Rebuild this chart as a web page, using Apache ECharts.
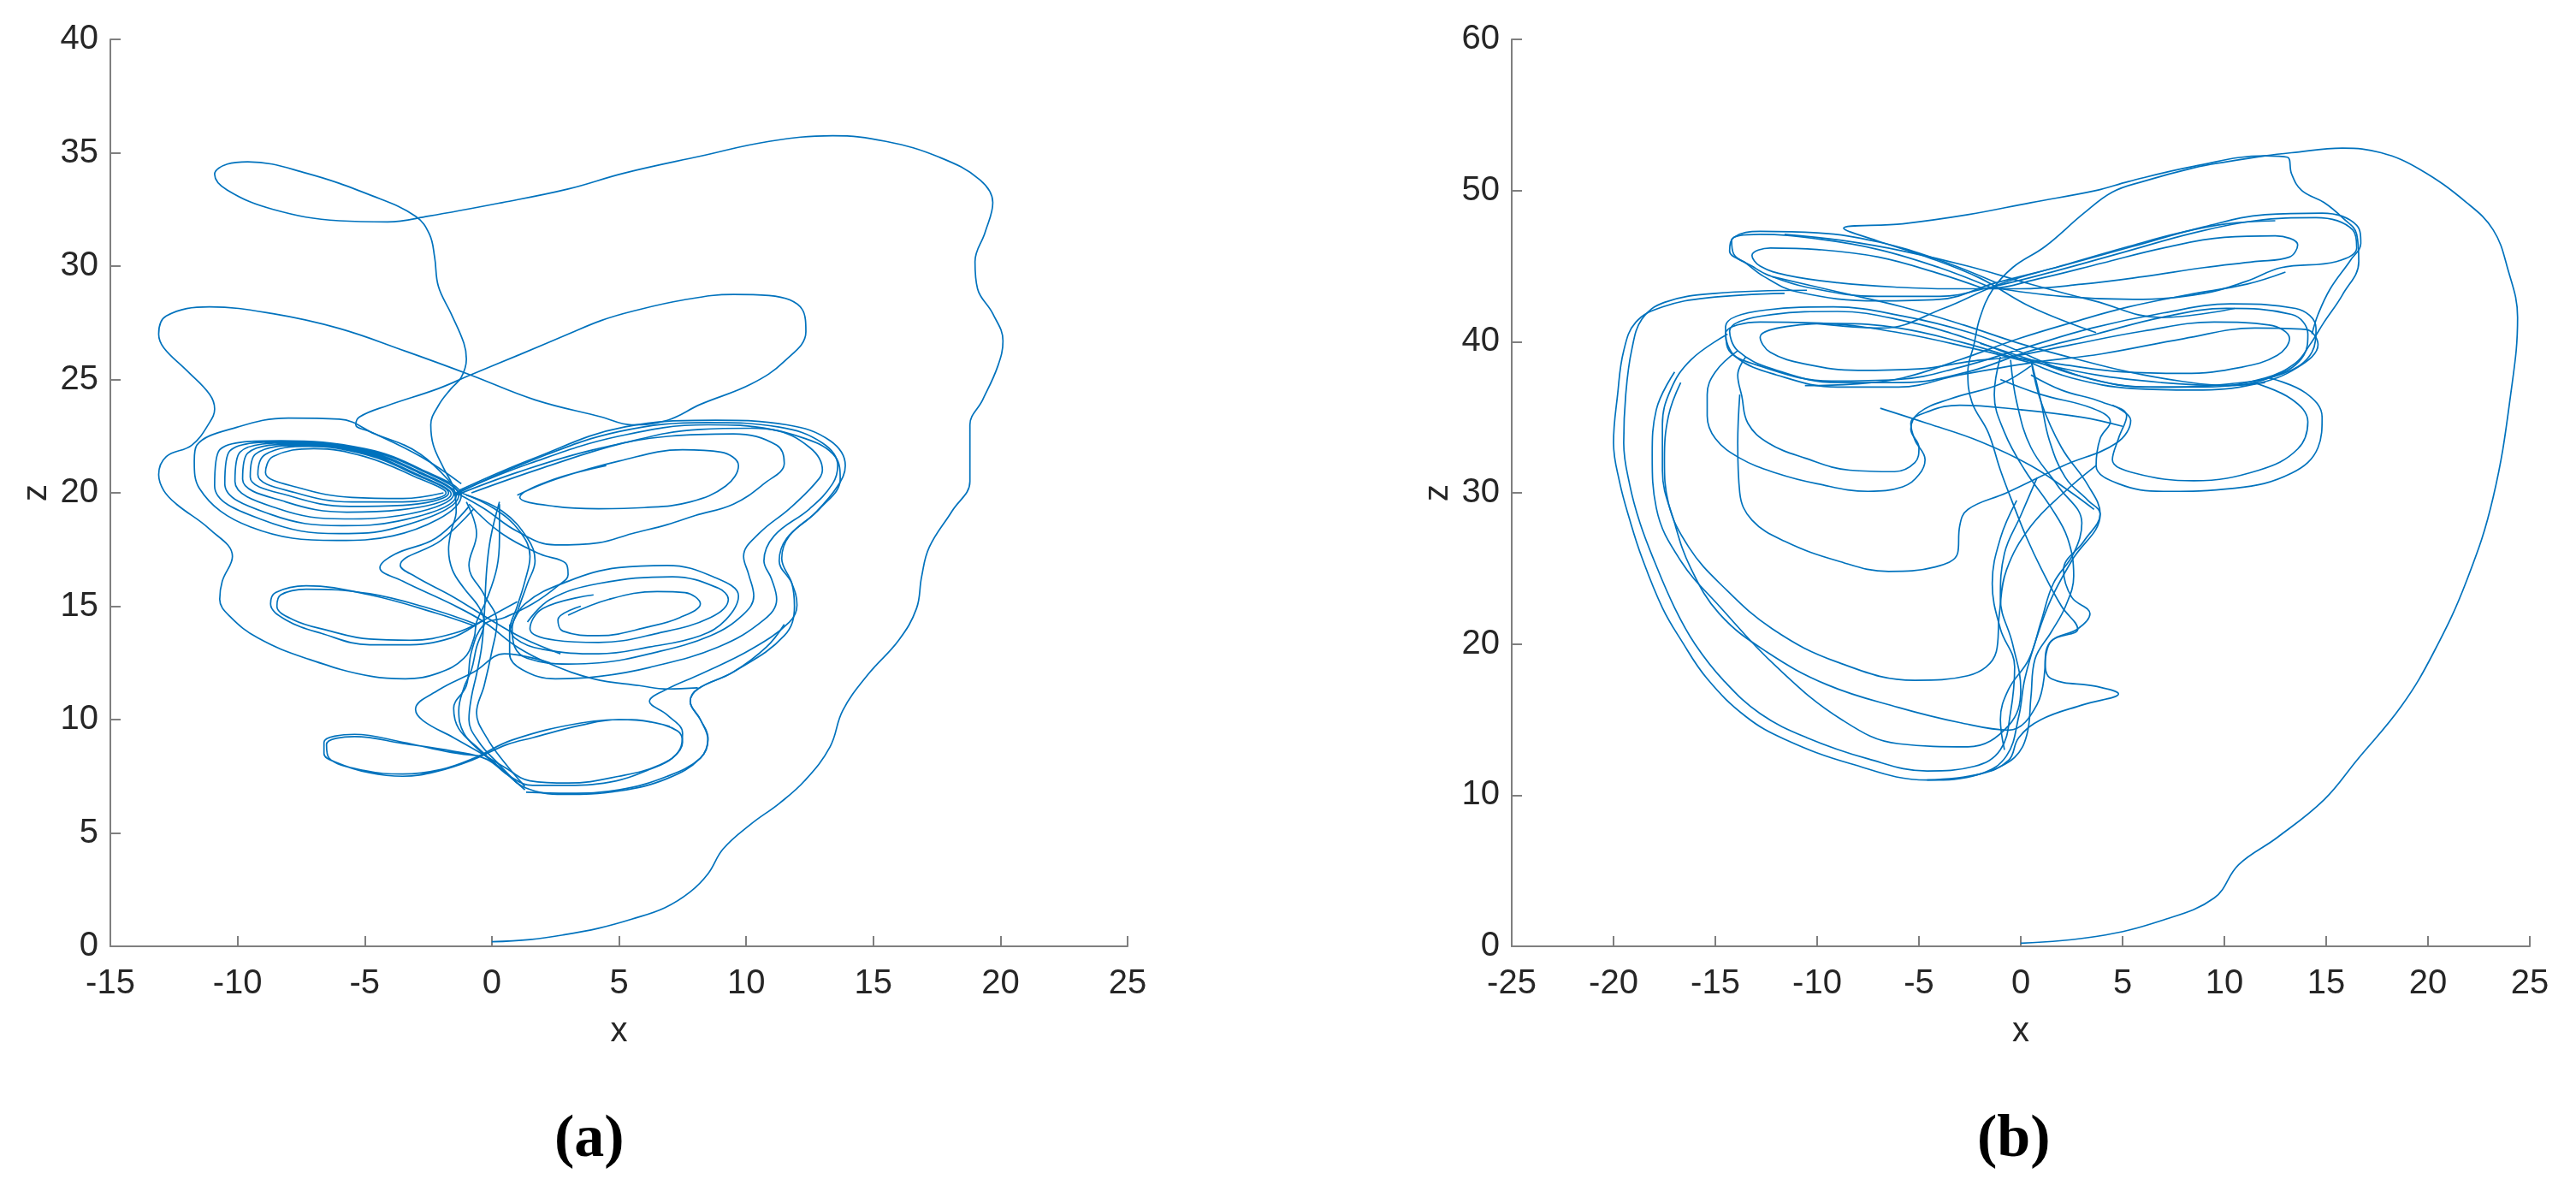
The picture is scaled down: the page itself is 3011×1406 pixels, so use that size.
<!DOCTYPE html>
<html>
<head>
<meta charset="utf-8">
<script src="https://cdn.jsdelivr.net/npm/echarts@6/dist/echarts.min.js"></script>
<style>
html,body{margin:0;padding:0;background:#fff;}
#chart{width:3011px;height:1406px;}
</style>
</head>
<body>
<div id="chart"></div>
<script>
// ---------- tick settings ----------
const xTicksA = {min: -15, max: 25, interval: 5};
const zTicksA = {min: 0, max: 40, interval: 5};
const xTicksB = {min: -25, max: 25, interval: 5};
const zTicksB = {min: 0, max: 60, interval: 10};
const captions = ['(a)', '(b)'];

// ---------- panel (a): x-z trajectory pieces ----------
const aStart = [[0,0.2],[1.5,0.3],[2.8,0.5],[4.2,0.8],[5.5,1.2],[6.8,1.7],[7.8,2.4],[8.5,3.2],[9.1,4.3],[10.2,5.4],[11.3,6.3],[12.3,7.3],[13.3,8.8],[13.8,10.4],[14.8,12.0],[16.0,13.5],[16.7,14.9],[16.9,16.3],[17.2,17.6],[18.1,19.2],[18.8,20.5],[18.8,21.9],[18.8,23.0],[19.3,24.1],[19.9,25.6],[20.1,26.7],[19.7,27.9],[19.1,29.0],[19.0,30.2],[19.4,31.5],[19.7,32.8],[19.2,33.8],[17.6,34.8],[15.5,35.5],[13.4,35.75],[10.9,35.5],[8.2,34.85],[5.2,34.1],[3.0,33.4],[0.4,32.8],[-2.5,32.2],[-4.1,31.95],[-6.0,32.0],[-8.6,32.5],[-10.4,33.35],[-10.9,34.05],[-10.4,34.5],[-9.6,34.6],[-7.3,34.1],[-4.7,33.1],[-3.0,32.2],[-2.45,31.4],[-2.25,30.4],[-2.1,29.1],[-1.6,27.9],[-1.1,26.6],[-1.0,25.9],[-1.2,25.1],[-1.6,24.6],[-2.1,23.85],[-2.4,23.0],[-2.3,22.1],[-1.9,21.1],[-1.5,20.2],[-1.4,19.2],[-1.6,18.3],[-1.7,17.5],[-1.55,16.6],[-1.1,15.8],[-0.5,14.95],[-0.3,14.3],[-0.6,13.2],[-0.8,12.2],[-1.1,11.4],[-1.3,10.4],[-1.1,9.4],[-0.4,8.55],[0.5,7.7],[1.3,7.0],[2.8,6.7],[5.0,6.85],[6.9,7.4],[8.2,8.3],[8.5,9.2],[8.2,10.0],[7.8,10.8],[8.1,11.35],[9.5,12.1],[11.5,13.7],[11.9,15.0],[11.8,16.0],[11.4,17.1],[11.7,18.1],[12.9,19.3],[13.7,20.6],[13.5,21.6],[12.3,22.4],[10.2,22.85],[8.2,22.8],[5.2,22.2],[2.0,21.1],[-0.8,20.0]];

const aUpper = [[-1.2,19.9],[-2.8,21.7],[-4.8,22.7],[-5.35,23.0],[-5.2,23.35],[-4.1,23.85],[-2.1,24.6],[-0.84,25.2],[1.1,26.1],[3.0,27.0],[4.3,27.6],[5.5,28.0],[7.5,28.5],[9.5,28.75],[10.9,28.7],[12.2,28.1],[12.35,27.1],[11.5,25.8],[10.2,24.8],[8.2,23.9],[6.9,23.2],[5.5,23.0],[4.3,23.35],[1.7,24.1],[-0.84,25.2],[-3.4,26.25],[-6.0,27.25],[-8.6,27.9],[-11.1,28.2],[-12.8,27.8],[-13.1,27.0],[-12.9,26.4],[-12.0,25.4],[-11.1,24.35],[-10.9,23.7],[-11.1,23.1],[-11.8,22.1],[-12.8,21.6],[-13.1,20.8],[-12.9,20.1],[-12.4,19.5],[-11.1,18.4],[-10.2,17.2],[-10.6,16.1],[-10.7,15.3],[-10.3,14.55],[-9.2,13.6],[-7.3,12.7],[-4.7,11.9],[-3.4,11.8],[-2.1,12.05],[-1.1,12.7],[-0.7,13.6],[-0.6,14.3],[-0.2,15.3],[0.2,16.7],[0.3,18.0],[0.3,19.5]];

const aLeftSpiral = [[-1.9,20.0],[-3.5,19.75],[-5.5,19.8],[-7.5,20.2],[-8.9,20.9],[-8.6,21.6],[-7.0,21.95],[-5.0,21.6],[-3.0,20.7],[-1.8,20.0],
 [-3.5,19.6],[-5.5,19.6],[-7.7,20.0],[-9.2,20.8],[-8.9,21.7],[-7.2,22.05],[-5.0,21.7],[-3.0,20.8],[-1.7,20.0],
 [-3.5,19.45],[-5.6,19.4],[-7.9,19.85],[-9.5,20.7],[-9.3,21.7],[-7.4,22.1],[-5.0,21.75],[-3.0,20.85],[-1.6,19.95],
 [-3.6,19.25],[-5.7,19.15],[-8.1,19.6],[-9.8,20.6],[-9.6,21.75],[-7.6,22.15],[-5.0,21.8],[-2.9,20.9],[-1.5,19.95],
 [-3.6,19.0],[-5.8,18.85],[-8.4,19.3],[-10.1,20.5],[-9.9,21.8],[-7.8,22.2],[-5.0,21.85],[-2.9,20.95],[-1.4,19.9],
 [-3.7,18.75],[-5.9,18.55],[-8.7,19.05],[-10.5,20.4],[-10.3,21.85],[-8.0,22.25],[-5.0,21.9],[-2.8,21.0],[-1.3,19.9],
 [-3.8,18.45],[-6.0,18.2],[-9.0,18.8],[-10.9,20.3],[-10.7,21.9],[-8.3,22.3],[-5.0,21.95],[-2.8,21.05],[-1.2,19.9],
 [-3.9,18.1],[-6.1,17.9],[-9.5,18.5],[-11.5,20.2],[-11.7,21.4],[-11.6,22.1],[-10.0,22.9],[-8.0,23.3],[-6.0,23.25],[-4.6,22.6],[-2.8,21.6],[-1.2,20.4]];

const aRightInner = [[1.0,19.9],[2.5,20.6],[5.0,21.4],[7.5,21.9],[9.0,21.8],[9.7,21.2],[9.2,20.3],[7.8,19.6],[6.0,19.35],[4.2,19.3],[2.5,19.4],[1.1,19.8],[2.2,20.5],[4.5,21.2]];
const aRightMid = [[-1.4,19.9],[1.0,20.9],[4.0,21.9],[7.0,22.5],[9.5,22.6],[11.2,22.1],[11.5,21.3],[10.7,20.4],[9.5,19.5],[8.0,19.0],[6.9,18.6],[5.5,18.2],[4.2,17.8],[2.5,17.7],[1.0,18.3],[-0.3,19.3],[-1.4,20.0]];
const aRightOuter1 = [[-1.4,20.0],[1.5,21.3],[5.0,22.5],[8.5,23.0],[11.0,22.8],[12.5,22.0],[13.0,21.0],[12.7,20.4],[11.7,19.3],[10.5,18.2],[9.9,17.2],[10.1,16.4],[10.3,15.45],[9.9,14.65],[8.6,13.7],[6.2,12.9],[4.2,12.5],[3.0,12.45],[1.4,12.7],[0.9,13.2],[0.8,14.0],[1.05,14.9],[1.4,16.0],[1.7,17.0],[1.4,18.0],[0.4,19.2],[-1.0,19.9]];
const aRightOuter2 = [[-1.5,19.9],[1.5,21.4],[5.0,22.7],[8.5,23.1],[11.3,22.9],[13.0,22.2],[13.6,21.2],[13.4,20.4],[12.5,19.3],[11.1,18.1],[10.7,17.0],[11.0,16.2],[11.2,15.3],[10.7,14.4],[8.9,13.2],[6.2,12.3],[4.2,11.9],[2.5,11.8],[1.2,12.2],[0.7,12.9],[0.7,13.9],[1.0,15.0],[1.3,16.1],[1.5,17.2],[1.1,18.3],[0.1,19.3],[-1.2,20.0]];
const aRightOuter3 = [[-1.3,20.1],[1.6,21.5],[5.2,22.9],[8.8,23.2],[11.6,23.0],[13.3,22.3],[13.9,21.2],[13.6,20.3],[12.7,19.1],[11.6,18.0],[11.3,17.0],[11.8,16.0],[12.0,15.05],[11.7,14.3],[10.2,13.1],[8.2,12.0],[6.9,11.35],[6.2,10.8],[6.9,10.2],[7.5,9.4],[7.4,8.7],[6.6,8.0],[5.0,7.5],[3.0,7.2],[1.5,7.3],[0.5,7.9],[-0.4,8.5],[-1.5,9.2],[-2.7,9.95],[-3.0,10.45],[-2.1,11.3],[-0.7,12.1],[0.5,12.9],[2.3,12.5]];

const aMidRight1 = [[0.7,13.9],[1.3,15.1],[3.0,16.1],[5.0,16.7],[6.9,16.8],[8.7,16.3],[9.7,15.45],[9.2,14.4],[8.2,13.7],[6.2,13.2],[4.2,12.9],[2.0,13.1],[0.9,13.6],[0.7,14.2]];
const aMidRight2 = [[1.4,14.3],[2.3,15.3],[4.2,16.0],[7.1,16.3],[8.9,15.8],[9.3,15.3],[8.6,14.5],[6.5,13.8],[4.2,13.4],[2.5,13.5],[1.5,14.0],[2.0,14.9],[4.0,15.5]];
const aMidRight3 = [[3.0,14.6],[4.6,15.3],[6.5,15.65],[7.6,15.6],[8.2,15.1],[7.4,14.5],[6.2,14.1],[4.2,13.7],[2.8,13.9],[2.6,14.4],[3.5,15.0]];

const aMidLeft1 = [[-0.6,14.1],[-2.2,14.7],[-4.8,15.5],[-7.3,15.9],[-8.5,15.6],[-8.7,15.1],[-8.1,14.4],[-6.7,13.8],[-4.8,13.3],[-3.5,13.3],[-1.6,13.6],[-0.3,14.4],[1.0,15.2]];
const aMidLeft2 = [[-0.6,14.2],[-2.3,14.85],[-4.8,15.55],[-7.3,15.75],[-8.3,15.5],[-8.45,15.0],[-7.8,14.4],[-6.5,13.95],[-4.8,13.55],[-3.2,13.5],[-1.5,13.8],[-0.3,14.4]];

const aLowLoops = [[-0.5,8.4],[-1.6,8.55],[-3.5,9.0],[-5.4,9.35],[-6.6,9.0],[-6.6,8.5],[-6.1,8.1],[-4.8,7.65],[-3.5,7.5],[-2.2,7.7],[-0.8,8.2],[0.6,8.9],[1.6,9.2],[3.5,9.75],[5.0,10.0],[6.2,9.9],[7.3,9.5],[7.5,9.0],[7.1,8.3],[6.2,7.8],[4.9,7.3],[3.0,7.1],[1.6,7.1],[0.7,7.5],[-0.2,8.25],[-1.5,8.6],[-3.5,8.95],[-5.4,9.25],[-6.5,8.9],[-6.4,8.3],[-5.0,7.75],[-3.5,7.6],[-2.0,7.8],[-0.7,8.3],[0.8,9.1],[3.5,9.85],[5.5,10.0],[7.0,9.7]];
const aLowOuter = [[1.35,6.8],[3.0,6.75],[5.0,6.9],[6.9,7.5],[8.2,8.3],[8.5,9.1],[8.2,10.0],[7.8,10.8],[8.1,11.35],[9.5,12.1],[10.8,13.2],[11.5,14.2]];

const aConnS1 = [[-0.9,19.4],[-2.2,18.0],[-3.8,17.3],[-4.4,16.7],[-3.5,16.1],[-1.6,15.1],[-0.3,14.3],[1.0,13.2],[2.3,12.45],[4.0,11.8],[5.8,11.5],[6.9,11.35],[8.1,11.4]];
const aConnS2 = [[-0.7,19.3],[-2.0,17.9],[-3.6,16.8],[-3.0,16.3],[-1.5,15.4],[-0.2,14.5],[1.2,13.6],[2.7,12.9]];
const aConnS3 = [[-0.9,19.5],[0.4,18.2],[1.9,17.3],[2.9,16.9],[3.0,16.4],[2.6,15.9],[1.6,15.1],[0.5,14.5],[-0.3,14.2],[-0.8,13.0],[-1.0,11.5],[-1.5,10.5],[-1.3,9.6],[-0.5,8.7],[0.6,7.6],[1.3,6.9]];
const aConnS4 = [[0.3,19.6],[-0.05,18.0],[-0.2,16.65],[-0.3,14.55],[-0.4,13.2],[-0.6,12.0],[-0.8,11.0],[-0.9,10.0],[-0.5,9.0],[0.3,8.0],[1.0,7.2]];
const aConnS5 = [[-1.0,19.6],[-0.6,18.2],[-0.9,16.8],[-0.3,15.5],[0.2,14.3],[0.0,13.0],[-0.3,11.5],[-0.6,10.3],[-0.2,9.2],[0.5,8.1],[1.3,7.05]];

// ---------- panel (b): x-z trajectory pieces ----------
const bStart = [[0,0.2],[3.7,0.65],[6.9,1.7],[9.5,3.2],[10.7,5.4],[12.6,7.2],[14.9,9.7],[16.5,12.3],[18.7,15.9],[20.3,19.5],[21.9,24.2],[23.2,29.7],[24.1,36.9],[24.4,41.6],[23.9,44.9],[23.2,47.4],[21.9,49.2],[19.6,51.4],[17.7,52.5],[15.8,52.8],[13.3,52.5],[12.0,52.3],[10.1,51.9],[8.5,51.5],[6.0,50.6],[4.5,49.9],[3.1,48.5],[1.2,46.3],[-0.4,44.9],[-1.4,43.4],[-2.0,41.6],[-2.3,39.8],[-2.6,38.0],[-2.4,36.0],[-1.6,34.0],[-1.0,31.5],[-0.3,29.0],[0.3,27.0],[1.0,25.0],[2.0,22.5],[2.8,21.0],[1.5,20.2],[1.2,18.8],[1.5,17.7],[3.7,17.2],[4.8,16.7],[3.1,16.0],[1.0,15.0],[-0.1,13.8],[-0.6,12.3],[-2.0,11.4],[-4.6,11.0]];
const bTop = [[3.7,40.6],[0.5,42.3],[-2.0,44.2],[-4.6,45.6],[-7.1,46.7],[-8.7,47.5],[-5.8,47.8],[-2.6,48.4],[0.5,49.2],[3.7,50.0],[5.3,50.6],[8.5,51.6],[12.0,52.3],[13.1,52.2],[13.3,51.1],[13.8,50.0],[14.9,49.2],[15.8,48.2],[16.5,47.1],[16.6,45.3],[15.8,43.1],[14.9,41.3],[14.2,39.8],[13.5,38.6],[12.0,37.6],[9.0,37.0],[6.0,37.0],[3.0,37.7],[0.5,38.8],[-2.0,39.9]];

const bLow1 = [[-0.1,38.9],[-2.6,40.2],[-5.8,41.4],[-9.0,42.0],[-12.2,41.8],[-14.3,40.7],[-13.9,39.4],[-12.2,38.2],[-9.0,37.3],[-5.8,37.3],[-2.6,38.0],[0.5,39.4],[3.7,40.5],[6.9,41.6],[10.1,42.2],[13.3,41.8],[14.1,40.5],[13.9,39.1],[12.6,37.8],[10.1,37.1],[6.9,37.3],[3.7,37.8],[-0.1,38.9]];
const bLow2 = [[0.2,39.2],[-2.5,40.6],[-5.8,41.7],[-9.2,42.3],[-12.5,42.1],[-14.5,41.0],[-14.4,39.6],[-12.6,38.3],[-9.3,37.4],[-6.0,37.5],[-3.0,38.3],[0.2,39.6],[3.5,40.9],[7.0,41.9],[10.3,42.5],[13.5,42.2],[14.5,40.9],[14.3,39.3],[12.9,37.9],[10.2,37.2],[6.8,37.0],[3.5,37.5],[0.2,39.2]];
const bLow3 = [[-0.5,39.0],[-3.0,40.0],[-6.0,40.9],[-9.0,41.2],[-11.5,41.0],[-12.8,40.3],[-12.3,39.3],[-10.5,38.5],[-8.0,38.1],[-5.0,38.2],[-2.5,38.7],[-0.5,39.0],[2.5,39.8],[6.0,40.7],[9.5,41.3],[12.2,41.1],[13.2,40.2],[12.6,39.1],[10.8,38.3],[8.0,37.9],[5.0,38.0],[2.0,38.5],[-0.5,39.0]];
const bLow4 = [[0.5,38.6],[-2.5,39.6],[-6.0,40.6],[-9.5,41.2],[-12.8,41.3],[-14.5,40.5],[-14.0,39.0],[-12.0,37.8],[-9.0,37.0],[-6.0,37.0],[-3.0,37.8],[0.5,38.6],[4.0,39.2],[8.0,40.2],[11.5,40.9],[14.0,40.8],[14.6,39.8],[13.6,38.3],[11.5,37.2],[8.5,36.8],[5.5,36.9],[2.5,37.6],[0.5,38.6]];

const bUp1 = [[-1.5,43.6],[-4.0,44.9],[-7.0,46.1],[-10.0,46.8],[-12.8,47.1],[-14.2,46.7],[-14.1,45.8],[-13.2,45.0],[-12.4,44.4],[-10.5,43.6],[-7.0,43.0],[-4.0,43.0],[-1.5,43.6],[1.5,44.6],[5.0,45.9],[8.5,47.2],[11.5,48.0],[14.5,48.2],[16.3,47.4],[16.5,46.2],[15.5,45.3],[12.8,44.9],[11.1,44.0],[9.0,43.2],[5.5,42.8],[2.0,43.0],[-1.5,43.6]];
const bUp2 = [[-1.2,43.9],[-4.0,45.4],[-7.0,46.6],[-10.0,47.2],[-12.8,47.3],[-14.1,46.9],[-14.3,46.0],[-13.5,45.2],[-12.6,44.3],[-11.0,43.3],[-7.0,42.7],[-4.0,42.8],[-1.2,43.9],[2.0,45.0],[5.5,46.3],[9.0,47.6],[12.0,48.4],[14.8,48.5],[16.5,47.7],[16.7,46.5],[16.2,45.4],[15.2,43.5],[14.6,41.8],[14.3,40.5]];
const bUp3 = [[-1.8,43.5],[-4.0,44.5],[-7.0,45.6],[-10.0,46.1],[-12.3,46.2],[-13.2,45.7],[-12.8,45.0],[-11.5,44.4],[-9.0,43.9],[-6.0,43.6],[-3.5,43.5],[-1.8,43.5],[1.0,44.2],[4.0,45.2],[7.0,46.2],[10.0,46.9],[12.5,47.0],[13.6,46.4],[13.2,45.6],[11.5,45.3],[9.0,44.9],[6.0,44.3],[3.0,43.8],[0.0,43.5],[-1.8,43.5]];

const bCross1 = [[-12.2,44.3],[-9.0,43.3],[-5.8,42.3],[-2.8,41.1],[-0.1,39.9],[2.6,38.9],[5.3,38.0],[7.8,37.4],[10.1,37.1],[12.0,37.3]];
const bCross2 = [[13.0,44.6],[11.1,43.8],[8.2,43.1],[5.3,42.3],[2.6,41.3],[-0.1,40.2],[-3.0,38.8],[-5.8,37.6],[-8.2,37.2],[-10.6,37.1]];
const bCross3 = [[-10.0,41.2],[-6.8,40.9],[-3.8,42.2],[-1.05,43.8],[2.2,45.1],[5.3,46.3],[7.8,47.2],[10.1,47.8],[12.5,48.0]];
const bCross4 = [[10.5,42.2],[6.9,41.6],[3.6,42.7],[0.5,43.8],[-2.6,45.0],[-5.8,46.0],[-8.8,46.7],[-11.6,47.1]];

const bMidL1 = [[-13.9,39.4],[-15.0,38.0],[-15.4,36.5],[-15.4,35.1],[-15.0,33.6],[-13.8,32.3],[-12.0,31.3],[-10.0,30.6],[-7.5,30.1],[-5.8,30.4],[-5.0,31.2],[-4.7,32.2],[-5.2,33.5],[-5.4,34.6],[-4.5,35.4],[-3.0,35.8],[0.0,35.5],[3.0,35.0],[5.0,34.4]];
const bMidL2 = [[-13.5,39.0],[-13.9,37.8],[-13.7,36.4],[-13.4,34.6],[-12.4,33.3],[-10.6,32.3],[-8.4,31.5],[-6.2,31.4],[-5.2,32.0],[-5.0,33.0],[-5.4,34.2],[-5.0,35.3],[-3.5,36.2],[-1.0,37.2],[0.5,38.4]];
const bMidR1 = [[11.4,37.3],[13.3,36.2],[14.1,34.7],[13.6,32.9],[11.7,31.5],[8.5,30.8],[5.6,31.3],[4.5,32.2],[4.8,33.6],[5.2,35.1],[4.0,36.0],[2.0,36.8],[0.5,37.8]];
const bMidR2 = [[12.2,37.6],[14.0,36.6],[14.8,35.0],[14.6,33.0],[13.3,31.3],[10.5,30.3],[7.0,30.1],[4.8,30.6],[3.7,31.8],[3.9,33.6],[4.4,34.7],[3.5,35.6],[1.0,36.5],[-1.0,37.5]];

const bBowlA = [[-13.8,36.5],[-13.9,33.3],[-13.8,30.0],[-13.2,28.2],[-11.6,26.8],[-9.0,25.5],[-6.5,24.8],[-4.2,25.1],[-3.1,26.0],[-3.0,27.8],[-2.6,28.9],[-0.7,30.0],[2.1,31.8],[4.7,33.3],[5.4,34.8],[4.5,35.8]];
const bBowlB = [[-16.7,37.3],[-17.3,35.1],[-17.5,32.2],[-17.3,29.3],[-16.3,26.4],[-14.7,23.9],[-12.2,21.0],[-9.0,18.8],[-5.2,17.6],[-2.6,17.9],[-1.2,19.5],[-1.05,22.0],[-0.7,24.9],[0.5,27.8],[2.1,30.0],[3.7,31.8]];
const bBowlC = [[-17.0,38.0],[-17.9,35.5],[-18.1,32.5],[-17.9,29.0],[-16.7,25.5],[-14.8,22.5],[-12.0,18.5],[-8.8,15.0],[-6.0,13.4],[-2.6,13.2],[-0.6,14.6],[0.0,17.0],[-0.4,20.0],[-1.0,23.0],[-0.8,26.0],[0.0,28.5],[0.8,31.0]];
const bWide1 = [[-11.6,43.2],[-15.4,42.9],[-17.6,42.3],[-18.9,41.3],[-19.5,39.4],[-19.8,36.5],[-20.0,33.3],[-19.7,30.7],[-19.2,28.2],[-18.6,25.7],[-17.6,22.4],[-16.7,20.3],[-15.4,17.7],[-13.5,15.2],[-11.6,13.7],[-8.4,12.1],[-4.6,11.0],[-2.0,11.4],[-0.7,12.6],[-0.1,15.2],[0.2,17.7],[0.8,20.5],[1.5,23.0],[2.5,25.5],[3.9,28.6],[3.3,30.5],[2.0,33.0],[1.0,36.0],[0.5,38.8]];
const bWide2 = [[-10.5,43.4],[-15.0,43.2],[-17.5,42.6],[-18.6,41.5],[-19.1,39.5],[-19.4,36.5],[-19.5,33.3],[-19.2,30.5],[-18.7,28.0],[-18.0,25.5],[-17.0,22.4],[-16.0,20.0],[-14.6,17.6],[-12.8,15.4],[-10.5,13.8],[-7.5,12.4],[-4.6,11.6],[-2.3,11.9],[-1.0,13.0],[-0.5,15.5],[-0.3,18.5],[-1.0,21.0],[-1.4,24.0],[-1.0,27.0],[-0.2,29.5]];
const bWide3 = [[-14.4,40.5],[-16.2,38.8],[-17.2,36.8],[-17.6,34.5],[-17.6,31.5],[-17.0,28.0],[-16.2,25.0],[-14.8,22.0],[-12.5,19.5],[-9.5,17.3],[-6.0,15.8],[-3.0,14.8],[-0.6,14.3],[0.8,16.0],[1.2,18.8]];
const bCenterS = [[0.5,38.8],[1.0,36.0],[1.4,33.5],[2.2,31.0],[3.3,29.5],[3.9,28.6],[3.1,26.8],[2.1,24.9],[2.5,23.1],[3.4,22.0],[2.8,21.0],[1.5,20.2],[1.2,18.8]];
const bCenter2 = [[-1.0,39.0],[-1.3,36.5],[-0.8,34.0],[0.2,31.5],[1.5,29.0],[2.3,27.0],[2.6,24.5],[2.2,22.5],[1.5,20.8],[0.7,19.0],[0.5,16.5],[0.3,14.0],[-0.3,12.5],[-1.5,11.6]];
const bCenter3 = [[-0.5,38.8],[-0.2,36.0],[0.5,33.0],[1.8,30.5],[3.0,28.0],[2.6,26.0],[1.6,24.0],[1.0,21.5],[0.4,19.0],[-0.6,17.0],[-1.0,15.0],[-0.8,13.0]];
const bDiag = [[-6.9,35.6],[-4.6,34.6],[-2.0,33.4],[0.5,31.8],[2.5,30.0],[3.6,28.9]];

const seriesA = [aStart,aUpper,aLeftSpiral,aRightInner,aRightMid,aRightOuter1,aRightOuter2,aRightOuter3,aMidRight1,aMidRight2,aMidRight3,aMidLeft1,aMidLeft2,aLowLoops,aLowOuter,aConnS1,aConnS2,aConnS3,aConnS4,aConnS5];
const seriesB = [bStart,bTop,bLow1,bLow2,bLow3,bLow4,bUp1,bUp2,bUp3,bCross1,bCross2,bCross3,bCross4,bMidL1,bMidL2,bMidR1,bMidR2,bBowlA,bBowlB,bBowlC,bWide1,bWide2,bWide3,bCenterS,bCenter2,bCenter3,bDiag];

// ---------- chart ----------
const lineColor = '#0072BD';
const axisGray = '#7f7f7f';
const textColor = '#262626';
function mkX(t, grid){
  return {type:'value', gridIndex:grid, min:t.min, max:t.max, interval:t.interval,
    name:'x', nameLocation:'middle', nameGap:80,
    nameTextStyle:{fontSize:40, color:textColor, fontFamily:'Liberation Sans'},
    axisLine:{show:true, onZero:false, lineStyle:{color:axisGray, width:2}},
    axisTick:{show:true, inside:true, length:12, lineStyle:{color:axisGray, width:2}},
    axisLabel:{fontSize:40, color:textColor, margin:24, fontFamily:'Liberation Sans'},
    splitLine:{show:false}};
}
function mkY(t, grid){
  return {type:'value', gridIndex:grid, min:t.min, max:t.max, interval:t.interval,
    name:'z', nameLocation:'middle', nameGap:66, nameRotate:90,
    nameTextStyle:{fontSize:40, color:textColor, fontFamily:'Liberation Sans'},
    axisLine:{show:true, onZero:false, lineStyle:{color:axisGray, width:2}},
    axisTick:{show:true, inside:true, length:12, lineStyle:{color:axisGray, width:2}},
    axisLabel:{fontSize:40, color:textColor, margin:14, fontFamily:'Liberation Sans'},
    splitLine:{show:false}};
}
function mkSeries(list, idx){
  return list.map(d => ({type:'line', xAxisIndex:idx, yAxisIndex:idx, data:d,
    showSymbol:false, symbol:'none', smooth:0.4, silent:true,
    lineStyle:{color:lineColor, width:1.7}, animation:false}));
}
const chart = echarts.init(document.getElementById('chart'));
chart.setOption({
  backgroundColor:'#ffffff',
  animation:false,
  grid:[{left:129, top:46, width:1189, height:1060},{left:1767, top:46, width:1190, height:1060}],
  xAxis:[mkX(xTicksA,0), mkX(xTicksB,1)],
  yAxis:[mkY(zTicksA,0), mkY(zTicksB,1)],
  graphic:[
    {type:'text', left:648, top:1298, style:{text:captions[0], font:'bold 70px "Liberation Serif"', fill:'#000'}},
    {type:'text', left:2311, top:1298, style:{text:captions[1], font:'bold 70px "Liberation Serif"', fill:'#000'}}
  ],
  series:[...mkSeries(seriesA,0), ...mkSeries(seriesB,1)]
});
</script>
</body>
</html>
